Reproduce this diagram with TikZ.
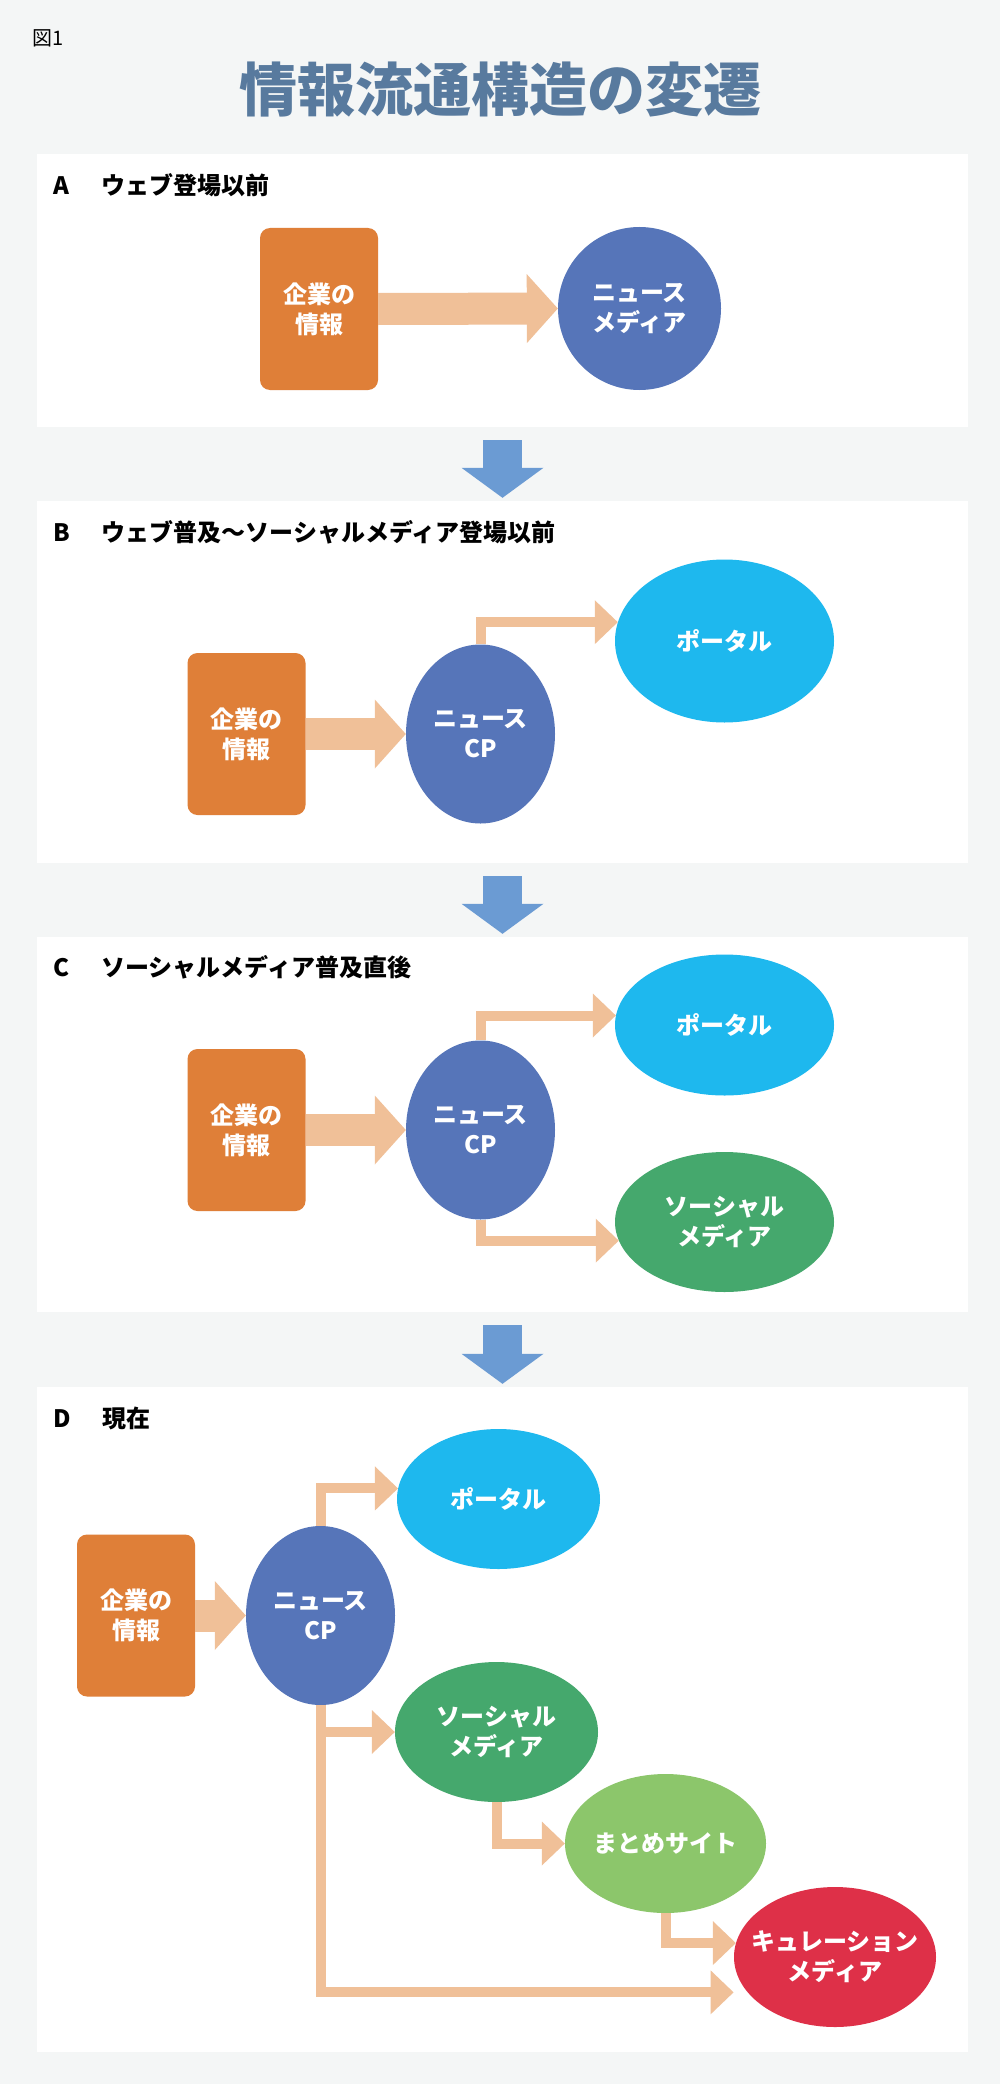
\documentclass[tikz,border=0pt]{standalone}
\usepackage{fontspec}
\setmainfont{Noto Sans CJK JP}
\usepackage{xcolor}
\usepackage{tikz}
\usetikzlibrary{arrows.meta, shapes.geometric}

\definecolor{bggrey}{HTML}{F4F6F6}
\definecolor{titleblue}{HTML}{587A9E}
\definecolor{infoorange}{HTML}{DF7F38}
\definecolor{cpblue}{HTML}{5675B9}
\definecolor{portalcyan}{HTML}{1EB8EE}
\definecolor{socialgreen}{HTML}{45A86D}
\definecolor{matomegreen}{HTML}{8CC66B}
\definecolor{curationred}{HTML}{DE3048}
\definecolor{flowpeach}{HTML}{F0C098}
\definecolor{stepblue}{HTML}{6B9BD3}

\begin{document}
\begin{tikzpicture}[x=1pt, y=-1pt,
		panel/.style={fill=white, minimum width=931pt, inner sep=0pt},
		seclabel/.style={anchor=west, inner sep=0pt, font=\bfseries\fontsize{24pt}{28pt}\selectfont},
		info/.style={rectangle, rounded corners=10pt, fill=infoorange, minimum width=118pt, minimum height=162pt, inner sep=0pt, text=white, align=center, font=\bfseries\fontsize{24pt}{30pt}\selectfont},
		media/.style={ellipse, inner sep=-20pt, text=white, align=center, font=\bfseries\fontsize{24pt}{30pt}\selectfont},
		bigflow/.style={draw=flowpeach, line width=32pt, -{Triangle[length=31pt, width=69pt, line width=0pt]}},
		flow/.style={draw=flowpeach, line width=10pt, -{Triangle[length=23pt, width=44pt, line width=0pt]}},
		nextstep/.style={draw=stepblue, line width=39pt, -{Triangle[length=30pt, width=82pt, line width=0pt]}, shorten <=13pt, shorten >=3pt}]
		% Background
		\fill[bggrey] (0,0) rectangle (1000,2084);
		\useasboundingbox (0,0) rectangle (1000,2084);

		% Heading
		\node[anchor=west, inner sep=0pt, font=\fontsize{20pt}{24pt}\selectfont] (fignum) at (32,38) {図1};
		\node[text=titleblue, font=\bfseries\fontsize{58pt}{64pt}\selectfont] (title) at (500,90) {情報流通構造の変遷};

		% Panels
		\node[panel, minimum height=273pt] (panelA) at (502.5,290.5) {};
		\node[panel, minimum height=362pt] (panelB) at (502.5,682) {};
		\node[panel, minimum height=375pt] (panelC) at (502.5,1124.5) {};
		\node[panel, minimum height=665pt] (panelD) at (502.5,1719.5) {};

		% Steps between panels
		\draw[nextstep] (panelA.south) -- (panelB.north);
		\draw[nextstep] (panelB.south) -- (panelC.north);
		\draw[nextstep] (panelC.south) -- (panelD.north);

		% A
		\node[seclabel] (labelA) at (53,185) {A\hspace{32pt}ウェブ登場以前};
		\node[info] (infoA) at (319,309) {企業の\\情報};
		\node[media, fill=cpblue, minimum width=163pt, minimum height=163pt] (newsA) at (639.5,308.5) {ニュース\\メディア};
		\draw[bigflow] (infoA.east) -- (newsA.west);

		% B
		\node[seclabel] (labelB) at (53,532) {B\hspace{32pt}ウェブ普及～ソーシャルメディア登場以前};
		\node[info] (infoB) at (246.5,734) {企業の\\情報};
		\node[media, fill=cpblue, minimum width=149pt, minimum height=179pt] (cpB) at (480.5,734) {ニュース\\CP};
		\node[media, fill=portalcyan, minimum width=219pt, minimum height=163pt] (portalB) at (724.5,641) {ポータル};
		\draw[bigflow] (infoB.east) -- (cpB.west);
		\draw[flow] (cpB.north) |- (portalB.170);

		% C
		\node[seclabel] (labelC) at (53,967) {C\hspace{32pt}ソーシャルメディア普及直後};
		\node[info] (infoC) at (246.5,1130) {企業の\\情報};
		\node[media, fill=cpblue, minimum width=149pt, minimum height=179pt] (cpC) at (480.5,1130) {ニュース\\CP};
		\node[media, fill=portalcyan, minimum width=219pt, minimum height=141pt] (portalC) at (724.5,1025) {ポータル};
		\node[media, fill=socialgreen, minimum width=219pt, minimum height=140pt] (socialC) at (724.5,1222) {ソーシャル\\メディア};
		\draw[bigflow] (infoC.east) -- (cpC.west);
		\draw[flow] (cpC.north) |- (portalC.175);
		\draw[flow] (cpC.south) |- (socialC.190);

		% D
		\node[seclabel] (labelD) at (53,1418) {D\hspace{32pt}現在};
		\node[info] (infoD) at (136,1615.5) {企業の\\情報};
		\node[media, fill=cpblue, minimum width=149pt, minimum height=179pt] (cpD) at (320.5,1615.5) {ニュース\\CP};
		\node[media, fill=portalcyan, minimum width=203pt, minimum height=140pt] (portalD) at (498.5,1499) {ポータル};
		\node[media, fill=socialgreen, minimum width=203pt, minimum height=140pt] (socialD) at (496.5,1732) {ソーシャル\\メディア};
		\node[media, fill=matomegreen, minimum width=201pt, minimum height=139pt] (matome) at (665.5,1843.5) {まとめサイト};
		\node[media, fill=curationred, minimum width=202pt, minimum height=140pt] (curation) at (835,1957) {キュレーション\\メディア};
		\draw[bigflow] (infoD.east) -- (cpD.west);
		\draw[flow] (cpD.north) |- (portalD.174);
		\draw[flow] (cpD.south) |- (socialD.west);
		\draw[flow] (socialD.south) |- (matome.west);
		\draw[flow] (matome.south) |- (curation.172);
		\draw[flow, shorten >=14pt] (cpD.south) |- (curation.202);
	\end{tikzpicture}
\end{document}
